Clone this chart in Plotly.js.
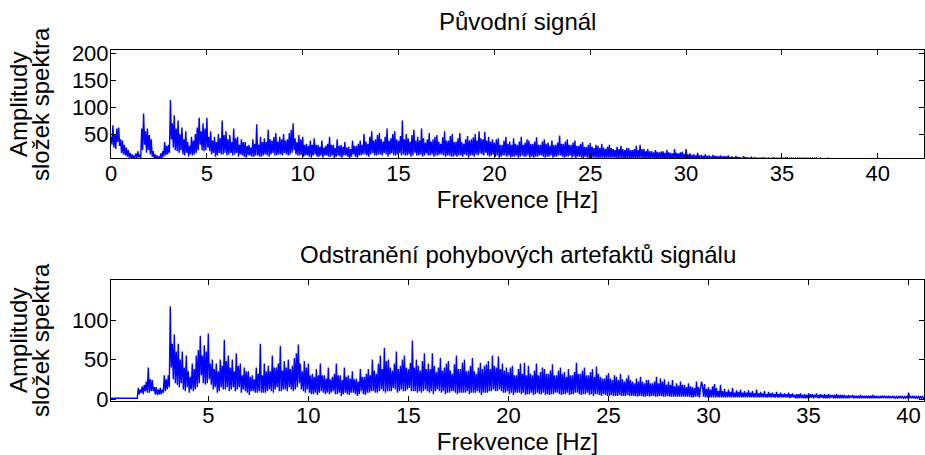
<!DOCTYPE html>
<html>
<head>
<meta charset="utf-8">
<script src="https://cdn.plot.ly/plotly-3.0.1.min.js"></script>
<style>html,body{margin:0;padding:0;background:#fff;}#chart{width:925px;height:455px;}</style>
</head>
<body>
<div id="chart"></div>
<script>
// Frequency sampling step of both spectra [Hz]
const freqStep = 0.05;

// Titles and labels
const titleTop = 'Původní signál';
const titleBottom = 'Odstranění pohybových artefaktů signálu';
const xLabel = 'Frekvence [Hz]';
const yLabelLines = ['Amplitudy', 'složek spektra'];

// Tick values
const topXTicks = [0, 5, 10, 15, 20, 25, 30, 35, 40];
const topYTicks = [50, 100, 150, 200];
const botXTicks = [5, 10, 15, 20, 25, 30, 35, 40];
const botYTicks = [0, 50, 100];

// Original signal spectrum amplitudes, 0.00 .. 42.35 Hz, one row per 1 Hz
const topAmp = [
  45,30,66,25,50,22,60,35,62,28,40,15,38,12,30,10,25,8,20,6,
  15,5,12,4,10,6,14,4,18,7,12,5,60,20,88,30,55,15,60,20,
  48,12,40,8,18,5,12,4,10,3,8,4,14,5,18,8,35,10,28,12,
  30,15,113,40,70,25,85,20,60,18,75,15,50,20,62,12,40,10,55,15,
  35,8,28,12,45,10,38,12,50,15,62,20,80,30,55,20,70,18,60,20,
  80,25,45,18,55,12,38,15,45,8,35,10,50,15,42,12,75,12,48,15,
  55,10,40,12,48,15,35,10,60,12,42,15,45,8,30,12,40,10,35,8,
  35,6,28,10,30,10,25,8,40,8,32,10,68,10,30,8,45,8,35,10,
  42,12,35,10,58,8,40,12,38,15,45,10,52,10,36,12,45,12,40,10,
  50,15,38,12,40,10,52,12,58,15,70,20,42,12,35,10,48,10,40,12,
  45,8,30,10,32,10,28,8,38,6,30,10,42,12,30,8,30,8,26,10,
  38,6,25,10,28,10,32,8,45,8,30,10,30,5,24,8,40,10,28,8,
  30,6,26,10,35,10,25,8,26,5,22,8,38,12,28,8,28,6,32,10,
  38,10,30,12,50,12,36,10,32,8,45,12,55,15,38,10,40,10,48,12,
  52,12,40,10,36,15,45,12,60,8,38,12,42,14,50,10,55,10,40,12,
  38,15,46,10,75,12,40,10,50,10,42,12,36,8,48,10,58,15,38,10,
  45,10,38,12,60,8,42,10,34,14,40,10,52,10,36,12,40,8,45,10,
  48,10,36,12,32,12,44,10,55,8,38,10,38,10,46,8,50,8,35,10,
  36,8,42,10,52,10,35,8,32,12,40,10,46,6,38,10,40,10,44,8,
  50,12,38,10,55,14,42,12,40,10,54,15,38,10,45,8,36,10,40,12,
  34,8,40,10,42,6,30,8,30,10,38,10,45,8,32,10,36,6,30,8,
  42,8,32,10,30,6,36,8,45,10,30,8,34,8,40,10,38,6,32,8,
  32,6,36,8,44,8,30,10,30,10,36,8,40,6,32,8,34,8,28,10,
  38,6,30,8,30,8,34,10,47,10,32,8,32,6,36,8,40,8,30,10,
  30,6,34,8,38,5,28,8,28,8,32,6,35,5,26,8,26,6,30,5,
  33,5,26,6,24,6,30,5,28,5,24,6,32,6,25,5,22,5,26,6,
  30,5,24,6,22,6,20,5,26,4,22,5,28,5,22,4,20,4,24,5,
  24,4,20,5,20,5,22,4,28,4,20,5,30,5,22,4,22,4,18,5,
  22,4,18,5,18,5,16,4,20,4,17,4,16,4,18,4,18,4,15,4,
  20,4,16,3,15,3,14,4,22,4,15,3,14,3,16,4,17,3,13,3,
  22,3,12,3,14,3,11,3,12,3,10,3,15,3,10,3,11,3,9,3,
  12,3,9,3,10,3,8,3,11,3,9,3,9,3,8,3,10,3,8,3,
  9,3,8,3,10,3,7,3,8,2,7,2,9,3,7,3,7,2,6,2,
  9,2,7,2,7,2,6,2,8,2,6,2,7,2,6,2,6,2,6,2,
  7,2,6,2,6,2,5,2,6,2,6,2,7,2,5,2,6,2,5,2,
  6,2,6,2,7,2,5,2,6,2,5,2,6,2,5,2,6,2,5,2,
  6,2,5,2,5,2,5,2,6,2,5,2,5,2,5,2,5,2,4,2,
  5,2,4,2,4,2,4,2,5,2,4,2,4,2,4,2,4,2,4,2,
  4,2,4,2,4,2,4,2,4,2,4,2,4,2,4,2,4,2,4,2,
  4,2,4,2,4,2,3,2,4,2,3,2,3,2,3,2,4,2,3,2,
  5,2,3,2,3,2,3,2,4,2,3,2,3,2,3,2,3,2,3,2,
  3,2,3,2,3,2,3,2,3,2,3,2,3,2,3,2,3,2,3,2,
  3,2,3,2,3,2,3,2
];

// Spectrum after removing motion artefacts, 0.00 .. 40.80 Hz, one row per 1 Hz
const botAmp = [
  1,1,1,1,1,1,1,1,1,1,1,1,1,1,1,1,1,1,1,1,
  1,1,1,1,1,1,1,1,1,1,14,6,12,8,16,6,18,10,22,8,
  40,8,25,10,24,10,15,6,15,5,12,6,14,6,12,8,30,10,25,12,
  30,15,117,40,70,25,82,20,60,18,70,15,50,20,60,12,40,10,55,15,
  35,8,28,12,45,10,38,12,55,15,62,20,80,30,55,20,68,18,60,20,
  83,25,45,18,50,12,38,15,45,8,35,10,50,15,42,12,75,12,48,15,
  55,10,40,12,50,15,35,10,58,12,42,15,45,8,30,12,40,10,35,8,
  35,5,28,10,30,10,25,8,40,8,32,10,70,8,30,8,45,8,35,10,
  42,12,35,10,55,8,40,12,40,15,45,10,67,10,36,12,48,12,40,10,
  50,15,38,12,42,10,52,12,58,15,69,20,45,12,35,10,48,8,40,12,
  45,8,30,6,32,6,28,8,38,5,30,8,45,10,30,8,30,6,26,8,
  40,6,25,8,28,10,32,6,45,6,30,8,30,4,24,6,40,8,28,6,
  30,5,26,8,35,8,25,6,26,4,22,6,38,10,28,6,28,5,32,8,
  38,8,30,10,50,10,36,8,32,8,45,10,55,12,38,10,65,8,48,10,
  50,10,40,10,36,14,45,12,60,8,38,10,42,12,50,10,55,10,40,12,
  38,14,46,10,74,10,40,10,50,8,42,10,36,8,48,10,58,12,38,10,
  45,8,38,10,58,6,42,10,34,12,40,10,52,8,36,10,40,6,45,8,
  48,8,36,10,32,10,44,8,55,6,38,8,38,8,46,8,50,8,35,10,
  36,6,42,8,52,8,35,8,32,10,40,8,46,5,38,8,42,8,44,8,
  48,10,38,10,55,12,42,10,40,10,54,12,38,10,45,8,36,8,40,10,
  34,6,40,8,42,5,30,8,30,8,38,8,45,6,32,8,46,5,30,6,
  42,6,32,8,30,5,36,6,45,8,30,6,34,6,40,8,38,5,32,6,
  32,5,36,6,44,6,30,8,30,8,36,6,40,5,32,6,34,6,28,8,
  38,5,30,6,30,6,34,8,46,8,32,6,32,5,36,6,40,6,30,8,
  30,5,34,6,38,4,28,6,41,6,32,5,28,4,26,6,26,5,30,4,
  33,4,26,5,24,4,30,4,28,4,24,5,32,4,25,4,22,4,26,5,
  30,4,24,4,22,4,20,4,26,3,22,4,28,4,22,3,20,3,24,4,
  24,3,20,4,20,4,22,3,28,3,20,4,26,4,22,3,25,3,18,4,
  22,3,18,3,24,3,16,3,20,3,17,3,22,3,18,3,18,3,15,3,
  20,3,16,2,15,2,14,3,22,3,15,2,14,22,16,3,19,2,13,2,
  15,2,12,2,16,2,19,2,14,2,10,2,18,2,10,2,13,2,9,2,
  12,2,9,2,14,2,8,2,11,2,9,2,12,2,8,2,10,2,8,2,
  11,2,8,2,10,2,7,2,12,2,7,2,9,2,7,2,10,2,6,2,
  9,2,7,2,8,2,6,2,9,2,6,2,8,2,6,2,7,2,6,2,
  8,1,6,2,7,2,5,1,6,1,6,1,7,1,5,1,6,1,5,1,
  7,1,6,2,6,1,5,2,7,1,5,1,6,2,5,1,6,1,5,1,
  6,1,5,2,5,1,5,1,6,1,5,1,5,1,5,1,5,1,4,1,
  5,1,4,2,5,1,4,1,4,1,4,1,5,1,4,1,4,1,4,1,
  4,1,4,1,5,1,4,1,4,1,3,1,4,1,4,2,4,1,3,1,
  4,1,3,1,4,1,3,1,3,1,3,1,4,1,3,1,3,1,3,1,
  8,1,3,1,4,1,3,1,3,1,3,1,3,1,3,1,3
];

const topFreq = topAmp.map((_, i) => +(i * freqStep).toFixed(2));
const botFreq = botAmp.map((_, i) => +(i * freqStep).toFixed(2));

const FONT = 'Liberation Sans, Arial, Helvetica, sans-serif';
const lineStyle = {color: '#0000ff', width: 1.4};

const traces = [
  {x: topFreq, y: topAmp, type: 'scatter', mode: 'lines', line: lineStyle, xaxis: 'x', yaxis: 'y'},
  {x: botFreq, y: botAmp, type: 'scatter', mode: 'lines', line: lineStyle, xaxis: 'x2', yaxis: 'y2'}
];

function axisBase(extra) {
  return Object.assign({
    showline: true, linecolor: '#000', linewidth: 1,
    mirror: 'ticks', ticks: 'inside', ticklen: 5, tickwidth: 1, tickcolor: '#000',
    showgrid: false, zeroline: false,
    tickfont: {family: FONT, size: 22, color: '#000'},
    tickmode: 'array'
  }, extra);
}

const titleFont = {family: FONT, size: 24, color: '#000'};

const layout = {
  width: 925, height: 455,
  margin: {l: 111, r: 1, t: 50, b: 54},
  paper_bgcolor: '#fff', plot_bgcolor: '#fff',
  showlegend: false,
  font: {family: FONT, color: '#000'},
  xaxis: axisBase({domain: [0, 1], range: [0, 42.41], tickvals: topXTicks, anchor: 'y', ticklabelstandoff: -4,
    title: {text: xLabel, font: titleFont, standoff: 0}}),
  yaxis: axisBase({domain: [0.6923, 1], range: [5.4, 206.1], tickvals: topYTicks, anchor: 'x', ticklabelstandoff: -3}),
  xaxis2: axisBase({domain: [0, 1], range: [0.137, 40.77], tickvals: botXTicks, anchor: 'y2', ticklabelstandoff: -5,
    title: {text: xLabel, font: titleFont, standoff: 3}}),
  yaxis2: axisBase({domain: [0, 0.3447], range: [-2.5, 150.6], tickvals: botYTicks, anchor: 'x2', ticklabelstandoff: -3}),
  annotations: [
    {text: titleTop, xref: 'paper', yref: 'paper', x: 0.5, y: 1.0798, xanchor: 'center', yanchor: 'middle', showarrow: false, font: titleFont},
    {text: titleBottom, xref: 'paper', yref: 'paper', x: 0.5, y: 0.4160, xanchor: 'center', yanchor: 'middle', showarrow: false, font: titleFont},
    {text: yLabelLines[0], xref: 'paper', yref: 'paper', x: -0.1132, y: 0.8462, xanchor: 'center', yanchor: 'middle', textangle: -90, showarrow: false, font: titleFont},
    {text: yLabelLines[1], xref: 'paper', yref: 'paper', x: -0.0861, y: 0.8462, xanchor: 'center', yanchor: 'middle', textangle: -90, showarrow: false, font: titleFont},
    {text: yLabelLines[0], xref: 'paper', yref: 'paper', x: -0.1132, y: 0.1738, xanchor: 'center', yanchor: 'middle', textangle: -90, showarrow: false, font: titleFont},
    {text: yLabelLines[1], xref: 'paper', yref: 'paper', x: -0.0861, y: 0.1738, xanchor: 'center', yanchor: 'middle', textangle: -90, showarrow: false, font: titleFont}
  ]
};

Plotly.newPlot('chart', traces, layout, {displayModeBar: false, staticPlot: true});
</script>
</body>
</html>
